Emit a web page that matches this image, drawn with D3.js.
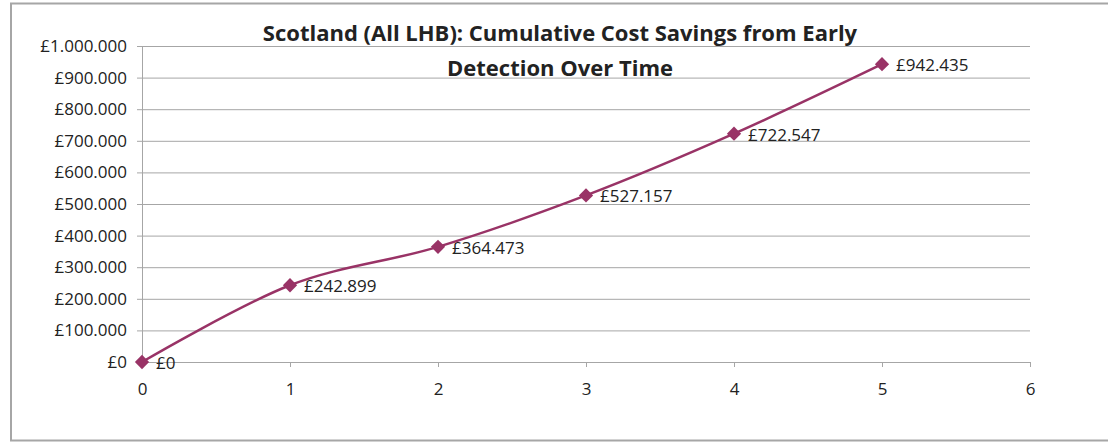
<!DOCTYPE html>
<html>
<head>
<meta charset="utf-8">
<script src="https://cdn.jsdelivr.net/npm/d3@7"></script>
<style>
  body { margin: 0; background: #fff; }
  text { font-family: "Open Sans", Lato, sans-serif; fill: #222; }
</style>
</head>
<body>
<div class="root"></div>
<script>
const years = [0, 1, 2, 3, 4, 5];
const savings = [0, 242899, 364473, 527157, 722547, 942435];
const yTicks = [0, 100000, 200000, 300000, 400000, 500000, 600000, 700000, 800000, 900000, 1000000];
const xTicks = [0, 1, 2, 3, 4, 5, 6];
const titleLines = ["Scotland (All LHB): Cumulative Cost Savings from Early", "Detection Over Time"];

const w = 1108;
const h = 448;
const margin = {left: 142, right: 78, top: 46, bottom: 86};

const loc = d3.formatLocale({decimal: ",", thousands: ".", grouping: [3], currency: ["£", ""]});
const fmt = loc.format("$,.0f");

const svg = d3.select(".root")
              .append("svg")
              .attr("width", w)
              .attr("height", h);

// chart border
svg.append("rect")
   .attr("x", 11)
   .attr("y", 3.5)
   .attr("width", w + 20)
   .attr("height", 437)
   .attr("fill", "none")
   .attr("stroke", "#a6a6a6")
   .attr("stroke-width", 2);

const xScale = d3.scaleLinear()
                 .domain([0, 6])
                 .range([margin.left, w - margin.right]);

const yScale = d3.scaleLinear()
                 .domain([0, 1000000])
                 .range([h - margin.bottom, margin.top]);

// gridlines + y axis
const yAxis = d3.axisLeft(yScale)
                .tickValues(yTicks)
                .tickFormat(fmt)
                .tickSizeInner(-(w - margin.right - margin.left))
                .tickSizeOuter(0)
                .tickPadding(15);

const gy = svg.append("g")
   .attr("transform", "translate(" + margin.left + ",0)")
   .call(yAxis);
gy.select(".domain").attr("stroke", "#a6a6a6");
gy.selectAll(".tick line").attr("stroke", "#a6a6a6").attr("x1", -5);
gy.selectAll(".tick text").style("font-size", "17px").attr("fill", "#222");

// x axis
const xAxis = d3.axisBottom(xScale)
                .tickValues(xTicks)
                .tickFormat(d3.format("d"))
                .tickSizeInner(5)
                .tickSizeOuter(0)
                .tickPadding(16);

const gx = svg.append("g")
   .attr("transform", "translate(0," + (h - margin.bottom) + ")")
   .call(xAxis);
gx.select(".domain").attr("stroke", "#a6a6a6");
gx.selectAll(".tick line").attr("stroke", "#a6a6a6");
gx.selectAll(".tick text").style("font-size", "17px").attr("fill", "#222");

// title
svg.append("text")
   .attr("x", 560)
   .attr("text-anchor", "middle")
   .style("font-size", "22px")
   .style("font-weight", "bold")
   .selectAll("tspan")
   .data(titleLines)
   .join("tspan")
   .attr("x", 560)
   .attr("y", (d, i) => 41 + i * 35)
   .text(d => d);

const pts = years.map((d, i) => [d, savings[i]]);

// smoothed line
const line = d3.line()
               .x(d => xScale(d[0]))
               .y(d => yScale(d[1]))
               .curve(d3.curveCatmullRom.alpha(0));

svg.append("path")
   .datum(pts)
   .attr("d", line)
   .attr("fill", "none")
   .attr("stroke", "#993366")
   .attr("stroke-width", 2.5);

// markers
svg.selectAll(".marker")
   .data(pts)
   .enter()
   .append("path")
   .attr("class", "marker")
   .attr("d", d3.symbol().type(d3.symbolDiamond2).size(130))
   .attr("transform", d => "translate(" + xScale(d[0]) + "," + yScale(d[1]) + ")")
   .attr("fill", "#993366");

// data labels
svg.selectAll(".lbl")
   .data(pts)
   .enter()
   .append("text")
   .attr("class", "lbl")
   .attr("x", d => xScale(d[0]) + 14)
   .attr("y", d => yScale(d[1]) + 7)
   .style("font-size", "17px")
   .text(d => fmt(d[1]));
</script>
</body>
</html>
